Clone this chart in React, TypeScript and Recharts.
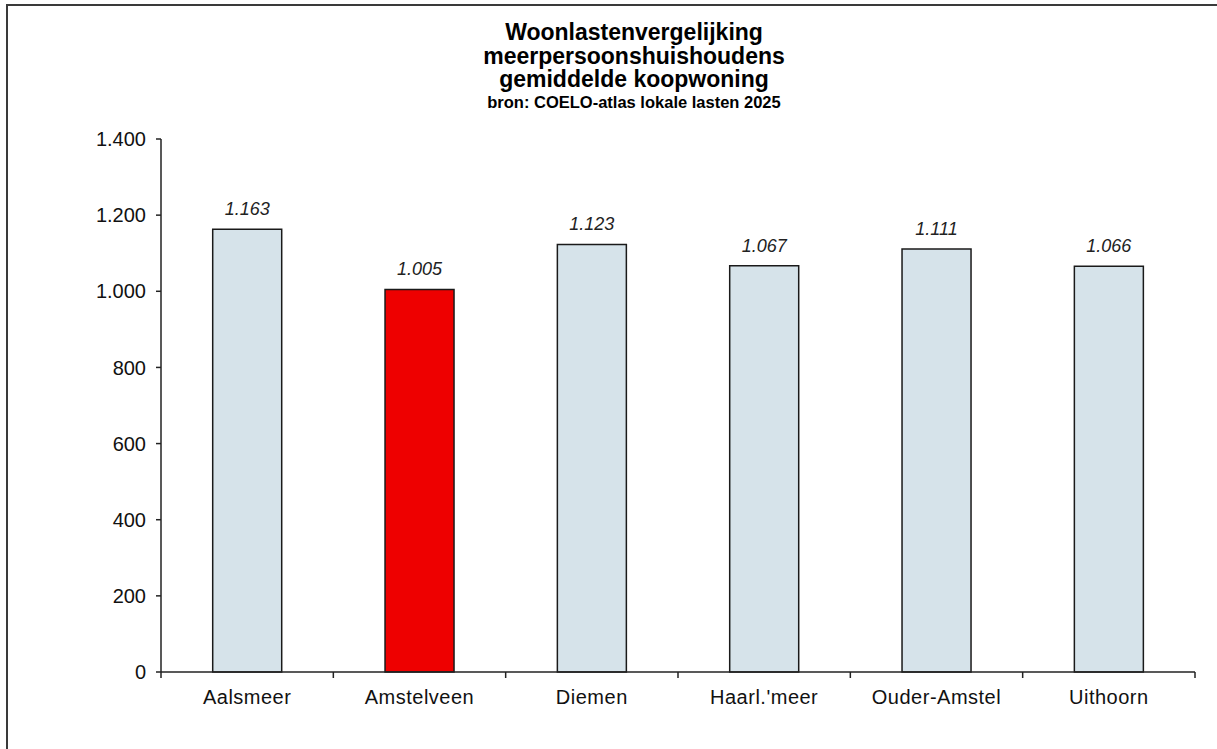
import { BarChart, Bar, XAxis, YAxis, Cell, LabelList } from 'recharts'

const gemeenten = ['Aalsmeer', 'Amstelveen', 'Diemen', "Haarl.'meer", 'Ouder-Amstel', 'Uithoorn']
const woonlasten = [1163, 1005, 1123, 1067, 1111, 1066]
const yTicks = [0, 200, 400, 600, 800, 1000, 1200, 1400]
// grenzen tussen categorieën (hele getallen) en labelposities (halve)
const xTicks = [0, 0.5, 1, 1.5, 2, 2.5, 3, 3.5, 4, 4.5, 5, 5.5, 6]
const highlight = 'Amstelveen'

const data = gemeenten.map((naam, i) => ({ naam, pos: i + 0.5, waarde: woonlasten[i] }))

const fmt = (v: number) => String(v).replace(/\B(?=(\d{3})+(?!\d))/g, '.')

const font = '"Liberation Sans", Arial, sans-serif'

function XTick(props: any) {
    const { x, y, payload } = props
    const v = payload.value as number
    if (Number.isInteger(v)) {
        return <line x1={x} x2={x} y1={y} y2={y + 6} stroke="#222" strokeWidth={1.5} />
    }
    return (
        <text x={x} y={y + 32} textAnchor="middle" fill="#111" fontSize={20} fontFamily={font} letterSpacing={0.5}>
            {gemeenten[Math.floor(v)]}
        </text>
    )
}

export default function App() {
    return (
        <div style={{ position: 'absolute', left: 0, top: 0, width: 1217, height: 749, overflow: 'hidden', background: '#fff', fontFamily: font }}>
            <div style={{ position: 'absolute', left: 6, top: 4, width: 1211, height: 2, background: '#3a3a3a' }} />
            <div style={{ position: 'absolute', left: 6, top: 4, width: 2, height: 745, background: '#3a3a3a' }} />
            <div style={{ position: 'absolute', left: 334, top: 21, width: 600, textAlign: 'center', color: '#000', fontWeight: 'bold' }}>
                <div style={{ fontSize: 23, lineHeight: '23.5px' }}>Woonlastenvergelijking</div>
                <div style={{ fontSize: 23, lineHeight: '23.5px' }}>meerpersoonshuishoudens</div>
                <div style={{ fontSize: 23, lineHeight: '23.5px' }}>gemiddelde koopwoning</div>
                <div style={{ fontSize: 16.5, lineHeight: '20px' }}>bron: COELO-atlas lokale lasten 2025</div>
            </div>
            <div style={{ position: 'absolute', left: 0, top: 0 }}>
                <BarChart
                    width={1217}
                    height={749}
                    data={data}
                    margin={{ top: 139, right: 22, bottom: 38, left: 0 }}
                    barCategoryGap="30%"
                >
                    <XAxis dataKey="naam" hide height={0} />
                    <XAxis
                        xAxisId="grens"
                        type="number"
                        dataKey="pos"
                        domain={[0, 6]}
                        ticks={xTicks}
                        interval={0}
                        height={39}
                        tick={<XTick />}
                        tickSize={0}
                        tickMargin={0}
                        tickLine={false}
                        axisLine={{ stroke: '#222', strokeWidth: 1.5 }}
                    />
                    <YAxis
                        width={161}
                        domain={[0, 1400]}
                        ticks={yTicks}
                        interval={0}
                        tickSize={5}
                        tickMargin={10}
                        tickFormatter={fmt}
                        axisLine={{ stroke: '#222', strokeWidth: 1.5 }}
                        tickLine={{ stroke: '#222', strokeWidth: 1.5 }}
                        tick={{ fill: '#111', fontSize: 20, fontFamily: font }}
                    />
                    <Bar dataKey="waarde" isAnimationActive={false} stroke="#1a1a1a" strokeWidth={1.5}>
                        {data.map((d) => (
                            <Cell key={d.naam} fill={d.naam === highlight ? '#ee0000' : '#d6e3ea'} />
                        ))}
                        <LabelList
                            dataKey="waarde"
                            position="top"
                            offset={14}
                            formatter={(v: any) => fmt(Number(v))}
                            style={{ fill: '#222', fontSize: 18, fontStyle: 'italic', fontFamily: font }}
                        />
                    </Bar>
                </BarChart>
            </div>
        </div>
    )
}
